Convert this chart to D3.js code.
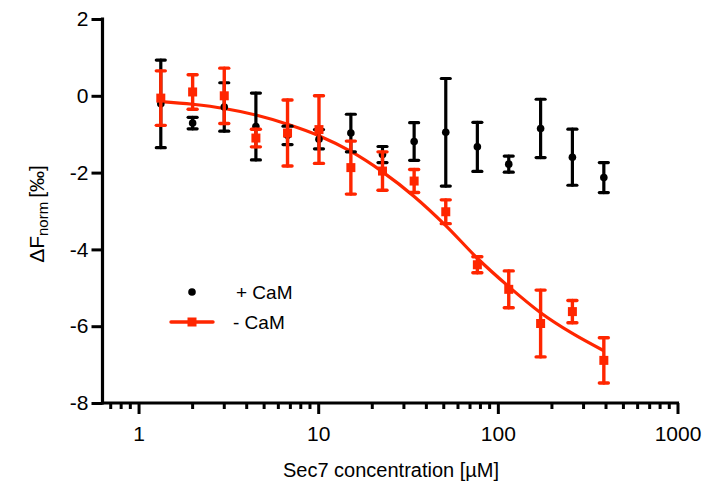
<!DOCTYPE html>
<html>
<head>
<meta charset="utf-8">
<script src="https://cdn.jsdelivr.net/npm/d3@7"></script>
<style>
  html, body { margin: 0; padding: 0; background: #fff; }
  svg { display: block; font-family: "Liberation Sans", Arial, Helvetica, sans-serif; }
</style>
</head>
<body>
<svg id="chart" width="707" height="492"></svg>
<script>
// Sec7 titration (µM), 1:1.5 dilution series
const concentrations = [1.33, 2.0, 3.0, 4.5, 6.75, 10.1, 15.2, 22.8, 34.2, 51.3, 76.9, 115, 173, 260, 389];

// + CaM: mean and error
const withCaM    = [-0.21, -0.71, -0.29, -0.80, -1.03, -1.13, -0.97, -1.53, -1.19, -0.95, -1.33, -1.78, -0.85, -1.60, -2.13];
const withCaMErr = [1.14, 0.15, 0.63, 0.87, 0.24, 0.25, 0.49, 0.21, 0.49, 1.40, 0.64, 0.21, 0.76, 0.73, 0.39];

// - CaM: mean and error
const noCaM    = [-0.06, 0.10, 0.00, -1.10, -0.97, -0.88, -1.87, -1.96, -2.22, -3.02, -4.40, -5.04, -5.93, -5.62, -6.89];
const noCaMErr = [0.71, 0.45, 0.72, 0.23, 0.86, 0.88, 0.69, 0.50, 0.30, 0.31, 0.21, 0.48, 0.87, 0.29, 0.59];

// fitted binding curve for - CaM, sampled at each concentration
const noCaMFit = [-0.15, -0.22, -0.33, -0.50, -0.74, -1.04, -1.45, -1.98, -2.62, -3.38, -4.23, -4.97, -5.65, -6.19, -6.64];

const yTicks = [2, 0, -2, -4, -6, -8];
const xTicks = [1, 10, 100, 1000];

const BLACK = "#000000";
const RED = "#ff2600";

const svg = d3.select("#chart");

const x = d3.scaleLog().domain([0.63, 1000]).range([102.5, 677.5]);
const y = d3.scaleLinear().domain([-8, 2]).range([403, 19]);

// plain hyphen-minus labels
const fmt = d => String(d);

// axes
const yAxis = svg.append("g").attr("transform", `translate(${x.range()[0]},0)`)
  .call(d3.axisLeft(y).tickValues(yTicks).tickSize(11).tickPadding(3).tickFormat(fmt));
const xAxis = svg.append("g").attr("transform", `translate(0,${y.range()[0]})`)
  .call(d3.axisBottom(x).tickValues(xTicks).tickSize(11).tickPadding(12).tickFormat(fmt));

[yAxis, xAxis].forEach(g => {
  g.select(".domain").attr("stroke", BLACK).attr("stroke-width", 3.2)
    .attr("d", g === yAxis
      ? `M0,${y.range()[1] - 1.5}V${y.range()[0] + 1.5}`
      : `M${x.range()[0] - 1.5},0H${x.range()[1] + 1.5}`);
  g.selectAll(".tick line").attr("stroke", BLACK).attr("stroke-width", 3);
  g.selectAll(".tick text").attr("fill", BLACK).style("font-size", "21px")
    .style("font-family", "'Liberation Sans', Arial, sans-serif");
});

// minor log ticks
const minor = [];
for (let dec = 0.1; dec < 1000; dec *= 10) {
  for (let k = 2; k <= 9; k++) {
    const v = +(dec * k).toPrecision(3);
    if (v >= x.domain()[0] && v < 1000 && !xTicks.includes(v)) minor.push(v);
  }
}
xAxis.selectAll(".minor").data(minor).enter().append("line")
  .attr("class", "minor")
  .attr("x1", d => x(d)).attr("x2", d => x(d))
  .attr("y1", 0).attr("y2", 6)
  .attr("stroke", BLACK).attr("stroke-width", 3);

// axis titles
svg.append("text")
  .attr("x", 391).attr("y", 477)
  .attr("text-anchor", "middle")
  .style("font-size", "20px")
  .text("Sec7 concentration [µM]");

const yTitle = svg.append("text")
  .attr("transform", "translate(44,214) rotate(-90)")
  .attr("text-anchor", "middle")
  .style("font-size", "21px");
yTitle.append("tspan").text("ΔF");
yTitle.append("tspan").attr("baseline-shift", "-28%").style("font-size", "15px").text("norm");
yTitle.append("tspan").attr("dx", 4).text("[‰]");

// fitted curve
const fitLine = d3.line()
  .x((d, i) => x(concentrations[i]))
  .y(d => y(d))
  .curve(d3.curveMonotoneX);
svg.append("path")
  .datum(noCaMFit)
  .attr("d", fitLine)
  .attr("fill", "none")
  .attr("stroke", RED)
  .attr("stroke-width", 3.2);

function errorBars(values, errs, color, cap, width) {
  const g = svg.append("g").attr("stroke", color).attr("stroke-width", width).attr("stroke-linecap", "round");
  values.forEach((v, i) => {
    const cx = x(concentrations[i]);
    const top = y(v + errs[i]);
    const bot = y(v - errs[i]);
    g.append("line").attr("x1", cx).attr("x2", cx).attr("y1", top).attr("y2", bot);
    g.append("line").attr("x1", cx - cap / 2).attr("x2", cx + cap / 2).attr("y1", top).attr("y2", top);
    g.append("line").attr("x1", cx - cap / 2).attr("x2", cx + cap / 2).attr("y1", bot).attr("y2", bot);
  });
}

// + CaM
errorBars(withCaM, withCaMErr, BLACK, 9, 3.2);
svg.append("g").selectAll("circle").data(withCaM).enter().append("circle")
  .attr("cx", (d, i) => x(concentrations[i]))
  .attr("cy", d => y(d))
  .attr("r", 3.8)
  .attr("fill", BLACK);

// - CaM
errorBars(noCaM, noCaMErr, RED, 9, 3.4);
svg.append("g").selectAll("rect").data(noCaM).enter().append("rect")
  .attr("x", (d, i) => x(concentrations[i]) - 4.5)
  .attr("y", d => y(d) - 4.5)
  .attr("width", 9).attr("height", 9)
  .attr("fill", RED);

// legend
const legend = svg.append("g");
legend.append("circle").attr("cx", 192).attr("cy", 292).attr("r", 3.8).attr("fill", BLACK);
legend.append("text").attr("x", 236).attr("y", 298.5).style("font-size", "19px").text("+ CaM");
legend.append("line").attr("x1", 171).attr("x2", 213).attr("y1", 322).attr("y2", 322)
  .attr("stroke", RED).attr("stroke-width", 3.4).attr("stroke-linecap", "round");
legend.append("rect").attr("x", 187.5).attr("y", 317.5).attr("width", 9).attr("height", 9).attr("fill", RED);
legend.append("text").attr("x", 233).attr("y", 328.5).style("font-size", "19px").text("- CaM");
</script>
</body>
</html>
